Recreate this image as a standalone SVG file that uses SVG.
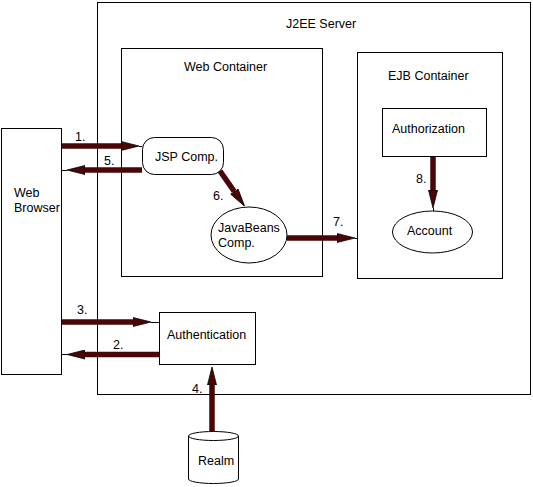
<svg xmlns="http://www.w3.org/2000/svg" width="533" height="487" viewBox="0 0 533 487">
<style>
  .box{fill:#fff;stroke:#000;stroke-width:1}
  .t{font-family:"Liberation Sans",Arial,sans-serif;font-size:12.5px;fill:#000}
  .shaft{fill:none;stroke:#4a0606;stroke-width:5.5}
  .thin{fill:none;stroke:#000;stroke-width:1}
</style>
<defs>
  <marker id="ah" viewBox="0 -5 18 10" refX="0" refY="0" markerWidth="18" markerHeight="10" markerUnits="userSpaceOnUse" orient="auto">
    <path d="M0,-4.5 L18,0 L0,4.5 Z" fill="#4a0606" stroke="#000" stroke-width="0.8"/>
  </marker>
</defs>
<rect width="533" height="487" fill="#fff"/>
<g id="j2ee-server">
  <rect class="box" x="97.5" y="2.5" width="433" height="392"/>
  <text class="t" x="286" y="28">J2EE Server</text>
</g>
<g id="web-container">
  <rect class="box" x="121.5" y="48.5" width="201" height="228"/>
  <text class="t" x="184" y="71">Web Container</text>
</g>
<g id="ejb-container">
  <rect class="box" x="357.5" y="52.5" width="145" height="226"/>
  <text class="t" x="388" y="80">EJB Container</text>
</g>
<g id="web-browser">
  <rect class="box" x="1.5" y="128.5" width="60" height="246"/>
  <text class="t" x="14" y="197">Web</text>
  <text class="t" x="14" y="212">Browser</text>
</g>
<g id="jsp-comp">
  <rect class="box" x="142.5" y="137.5" width="81" height="37" rx="12" ry="12"/>
  <text class="t" x="155" y="161">JSP Comp.</text>
</g>
<g id="javabeans-comp">
  <ellipse class="box" cx="249" cy="235" rx="38" ry="28"/>
  <text class="t" x="218" y="232">JavaBeans</text>
  <text class="t" x="218" y="247">Comp.</text>
</g>
<g id="authorization">
  <rect class="box" x="382.5" y="108.5" width="104" height="48"/>
  <text class="t" x="392" y="133">Authorization</text>
</g>
<g id="account">
  <ellipse class="box" cx="432.5" cy="232" rx="40" ry="21"/>
  <text class="t" x="407" y="235">Account</text>
</g>
<g id="authentication">
  <rect class="box" x="159.5" y="312.5" width="96" height="52"/>
  <text class="t" x="167" y="339">Authentication</text>
</g>
<g id="realm">
  <path class="box" d="M188.5,436 V479 A25,4.5 0 0 0 238.5,479 V436 A25,4.5 0 0 0 188.5,436 A25,4.5 0 0 0 238.5,436"/>
  <text class="t" x="198" y="465">Realm</text>
</g>
<g id="connectors">
  <!-- 1 -->
  <path class="shaft" d="M62,146 H121" marker-end="url(#ah)"/>
  <path class="thin" d="M139,146.5 H142"/>
  <text class="t" x="75" y="141">1.</text>
  <!-- 5 -->
  <path class="shaft" d="M142,170 H85" marker-end="url(#ah)"/>
  <path class="thin" d="M67,170.5 H62"/>
  <text class="t" x="104" y="165">5.</text>
  <!-- 6 -->
  <path class="shaft" d="M220,171 L234.3,191.5" marker-end="url(#ah)"/>
  <text class="t" x="213" y="200">6.</text>
  <!-- 7 -->
  <path class="shaft" d="M287,238 H337" marker-end="url(#ah)"/>
  <path class="thin" d="M355,238.5 H357"/>
  <text class="t" x="333" y="226">7.</text>
  <!-- 8 -->
  <path class="shaft" d="M433,157 V190" marker-end="url(#ah)"/>
  <path class="thin" d="M433.5,208 V211"/>
  <text class="t" x="416" y="183">8.</text>
  <!-- 3 -->
  <path class="shaft" d="M62,322 H133" marker-end="url(#ah)"/>
  <path class="thin" d="M151,322.5 H159"/>
  <text class="t" x="77" y="314">3.</text>
  <!-- 2 -->
  <path class="shaft" d="M159,354.5 H85" marker-end="url(#ah)"/>
  <path class="thin" d="M67,354.5 H62"/>
  <text class="t" x="113" y="349">2.</text>
  <!-- 4 -->
  <path class="shaft" d="M212,432 V385" marker-end="url(#ah)"/>
  <text class="t" x="192" y="393">4.</text>
</g>
</svg>
